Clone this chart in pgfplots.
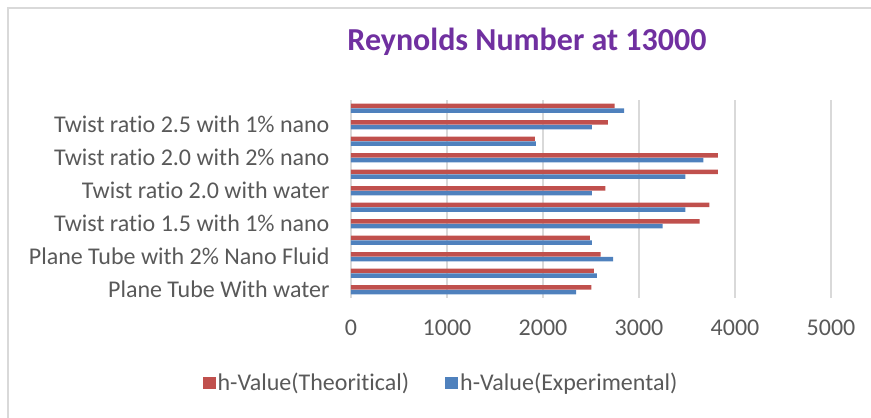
\documentclass[border=0pt]{standalone}
\usepackage{pgfplots}
\pgfplotsset{compat=1.18}
\usepackage{fontspec}
\setmainfont{Carlito}[Ligatures={NoCommon,NoContextual,NoRequired}]
\newcommand{\ti}{t\kern0pt i}
\definecolor{barred}{HTML}{C0504D}
\definecolor{barblue}{HTML}{4F81BD}
\definecolor{txtgray}{HTML}{595959}
\definecolor{gridgray}{HTML}{D9D9D9}
\definecolor{titlepurple}{HTML}{7030A0}
\begin{document}
\begin{tikzpicture}[x=1pt,y=1pt]
\path[use as bounding box] (0,0) rectangle (871,418);
\draw[gridgray,line width=1.2pt] (8,0) -- (8,410) -- (871,410);
\node[font=\fontsize{32}{38}\selectfont\bfseries,text=titlepurple] at (527,376) {Reynolds Number at 13000};
\begin{axis}[
  at={(351pt,120pt)}, anchor=south west,
  scale only axis, width=480pt, height=198pt,
  xmin=0, xmax=5000, ymin=0.5, ymax=12.5,
  xtick={0,1000,2000,3000,4000,5000},
  ytick={1,3,5,7,9,11},
  yticklabels={Plane Tube With water,Plane Tube with 2\% Nano Fluid,Twist ra\ti o 1.5 with 1\% nano,Twist ra\ti o 2.0 with water,Twist ra\ti o 2.0 with 2\% nano,Twist ra\ti o 2.5 with 1\% nano},
  axis line style={draw=none},
  major tick length=0pt,
  xmajorgrids, grid style={gridgray,line width=1.2pt},
  /pgf/number format/assume math mode=true,
  /pgf/number format/1000 sep={},
  tick label style={font=\fontsize{24}{28}\selectfont,text=txtgray},
  xticklabel style={yshift=-18pt},
  yticklabel style={xshift=-18pt},
  xbar, bar width=4.6pt,
  legend style={at={(0.1875,-0.429)}, anchor=center, draw=none, fill=none,
    legend columns=2, font=\fontsize{24}{28}\selectfont, text=txtgray,
    /tikz/every even column/.append style={column sep=34pt}},
  legend cell align=left,
  legend image code/.code={\fill[#1] (-4pt,-6pt) rectangle (9pt,6pt);},
]
\addplot[fill=barred, draw=none, bar shift=2.4pt] coordinates {
(2503,1) (2531,2) (2600,3) (2489,4) (3632,5) (3733,6)
(2649,7) (3821,8) (3821,9) (1916,10) (2677,11) (2747,12)};
\addplot[fill=barblue, draw=none, bar shift=-2.4pt] coordinates {
(2346,1) (2562,2) (2730,3) (2510,4) (3245,5) (3484,6)
(2510,7) (3484,8) (3670,9) (1927,10) (2510,11) (2845,12)};
\legend{h-Value(Theori\ti cal),h-Value(Experimental)}
\end{axis}
\end{tikzpicture}
\end{document}
